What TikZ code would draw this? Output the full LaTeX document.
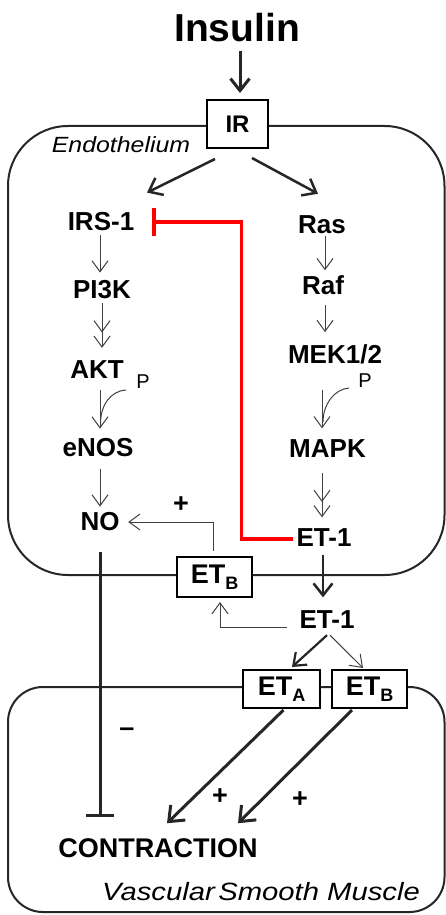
\documentclass[tikz,border=0pt]{standalone}
\usepackage{fontspec}
\setmainfont{Liberation Sans}
\usetikzlibrary{arrows.meta,calc}
\newcommand{\lowsub}[1]{\raisebox{-6pt}{\fontsize{18}{18}\selectfont #1}}
\begin{document}
\begin{tikzpicture}[x=1pt,y=-1pt,
  lbl/.style={inner sep=0pt,font=\bfseries\fontsize{26}{28}\selectfont},
  sgn/.style={inner sep=0pt,font=\bfseries\fontsize{27}{28}\selectfont},
  pl/.style={inner sep=0pt,font=\fontsize{20}{21}\selectfont},
  rbox/.style={draw,line width=2pt,fill=white,inner sep=0pt,font=\bfseries\fontsize{27}{28}\selectfont},
  membrane/.style={line width=2pt,draw=black!85},
  thk/.style={line width=2.8pt,draw=black!85,-{Straight Barb[length=12pt,width=19pt]}},
  thn/.style={line width=1pt,draw=black!75,-{Straight Barb[length=11pt,width=16pt]}},
  dbl/.style={line width=1pt,draw=black!75,-{Straight Barb[length=11pt,width=16pt,sep=3pt]Straight Barb[length=11pt,width=16pt]}},
  crv/.style={line width=1pt,draw=black!75},
  inhib/.style={line width=3.2pt,draw=red,-{Bar[width=28pt]}},
  blk/.style={line width=3pt,draw=black!85,-{Bar[width=28pt]}}]
\useasboundingbox (0,0) rectangle (446,915);
\fill[white] (0,0) rectangle (446,915);

% membranes
\draw[membrane,rounded corners=60pt] (8,126) rectangle (444.5,575);
\draw[membrane,rounded corners=35pt] (8,687) rectangle (444.5,912);

% labels
\node[inner sep=0pt,font=\bfseries\fontsize{39}{40}\selectfont] (ins) at (237,28) {Insulin};
\node[rbox,minimum width=61pt,minimum height=48pt,font=\bfseries\fontsize{24}{26}\selectfont] (ir) at (237.5,124) {IR};
\node[inner sep=0pt,font=\itshape\fontsize{22}{24}\selectfont] (endo) at (121,145) {\scalebox{1.13}[1]{Endothelium}};

\node[lbl] (irs) at (101,222) {IRS-1};
\node[lbl] (pi3k) at (102,290) {PI3K};
\node[lbl] (akt) at (97,370) {AKT};
\node[pl] (p1) at (143,382) {P};
\node[lbl] (enos) at (98,448) {eNOS};
\node[lbl] (no) at (100,522) {NO};

\node[lbl] (ras) at (322,225) {Ras};
\node[lbl] (raf) at (323,285) {Raf};
\node[lbl] (mek) at (335,354) {MEK1/2};
\node[pl] (p2) at (365,381) {P};
\node[lbl] (mapk) at (327.5,449) {MAPK};
\node[lbl] (et1in) at (324,538) {ET-1};

\node[rbox,minimum width=75pt,minimum height=40pt] (etb1) at (214.5,577) {ET\lowsub{B}};
\node[lbl] (et1out) at (327,620) {ET-1};
\node[rbox,minimum width=77pt,minimum height=38pt] (eta) at (281.5,689) {ET\lowsub{A}};
\node[rbox,minimum width=75pt,minimum height=38pt] (etb2) at (369.5,689) {ET\lowsub{B}};

\node[lbl,font=\bfseries\fontsize{27}{28}\selectfont] (contr) at (158,848) {CONTRACTION};
\node[inner sep=0pt,font=\itshape\fontsize{25}{27}\selectfont] (vsm) at (261,892) {\scalebox{1.17}[1]{Vascular\hspace{0.12em}Smooth Muscle}};

\node[sgn] (plus1) at (181,505) {+};
\node[sgn] (minus) at (127,732) {--};
\node[sgn] (plus2) at (220,797) {+};
\node[sgn] (plus3) at (300,800) {+};

% insulin receptor
\draw[thk,line width=3pt] ($(ins.south)+(3,8)$) -- ($(ir.north)+(2.5,-6)$);
\draw[thk,line width=2.5pt] ($(ir.south)+(-22.5,10)$) -- ($(irs.north)+(46,-20)$);
\draw[thk,line width=2.5pt] ($(ir.south)+(14.5,9)$) -- ($(ras.north)+(-4,-22)$);

% PI3K branch
\draw[thn] ($(irs.south)+(-1,4)$) -- ($(pi3k.north)+(-2,-8)$);
\draw[dbl] ($(pi3k.south)+(0,4)$) -- ($(akt.north)+(5,-13)$);
\draw[thn] ($(akt.south)+(3,11)$) -- ($(enos.north)+(2,-10)$);
\draw[crv] ($(p1.west)+(-10,8)$) .. controls +(-16,1) and +(0,-18) .. ($(enos.north)+(2.5,-15)$);
\draw[thn] ($(enos.south)+(2,11.5)$) -- ($(no.north)+(0,-6)$);

% MAPK branch
\draw[thn] ($(ras.south)+(3,1.5)$) -- ($(raf.north)+(2,-5)$);
\draw[thn] ($(raf.south)+(2,10)$) -- ($(mek.north)+(-10,-12)$);
\draw[thn] ($(mek.south)+(-13,26)$) -- ($(mapk.north)+(-5.5,-11.5)$);
\draw[crv] ($(p2.west)+(-9,7)$) .. controls +(-15,1) and +(0,-17) .. ($(mapk.north)+(-4.5,-18)$);
\draw[dbl] ($(mapk.south)+(-5.5,14.5)$) -- ($(et1in.north)+(-2,-11.5)$);

% ET-1 release
\draw[thk,line width=2.5pt] ($(et1in.south)+(-1,8)$) -- ($(et1out.north)+(-4,-13.5)$);

% inhibition of IRS-1
\draw[inhib] ($(et1in.west)+(-3,1)$) -- ++(-52,0) |- ($(irs.east)+(18,0)$);

% ETB in endothelium -> NO
\draw[thn] ($(etb1.north)+(-1.5,-5)$) |- ($(no.east)+(8.5,0)$);
\draw[thn] ($(et1out.west)+(-12,7)$) -| ($(etb1.south)+(5.5,4)$);

% ET-1 to smooth muscle receptors
\draw[thk,line width=2.2pt,-{Straight Barb[length=11pt,width=17pt]}] ($(et1out.south)+(0,6)$) -- ($(eta.north)+(10.5,-2)$);
\draw[thn] ($(et1out.south)+(3,6)$) -- ($(etb2.north)+(-6.5,-1)$);

% contraction
\draw[thk,line width=3pt,-{Straight Barb[length=13pt,width=21pt]}] ($(eta.south)+(2,1)$) -- ($(contr.north)+(9,-15)$);
\draw[thk,line width=3pt,-{Straight Barb[length=13pt,width=21pt]}] ($(etb2.south)+(-17.5,1)$) -- ($(contr.north)+(80,-15)$);
\draw[blk] ($(no.south)+(0,20.5)$) -- ($(contr.north)+(-58,-21)$);
\end{tikzpicture}
\end{document}
